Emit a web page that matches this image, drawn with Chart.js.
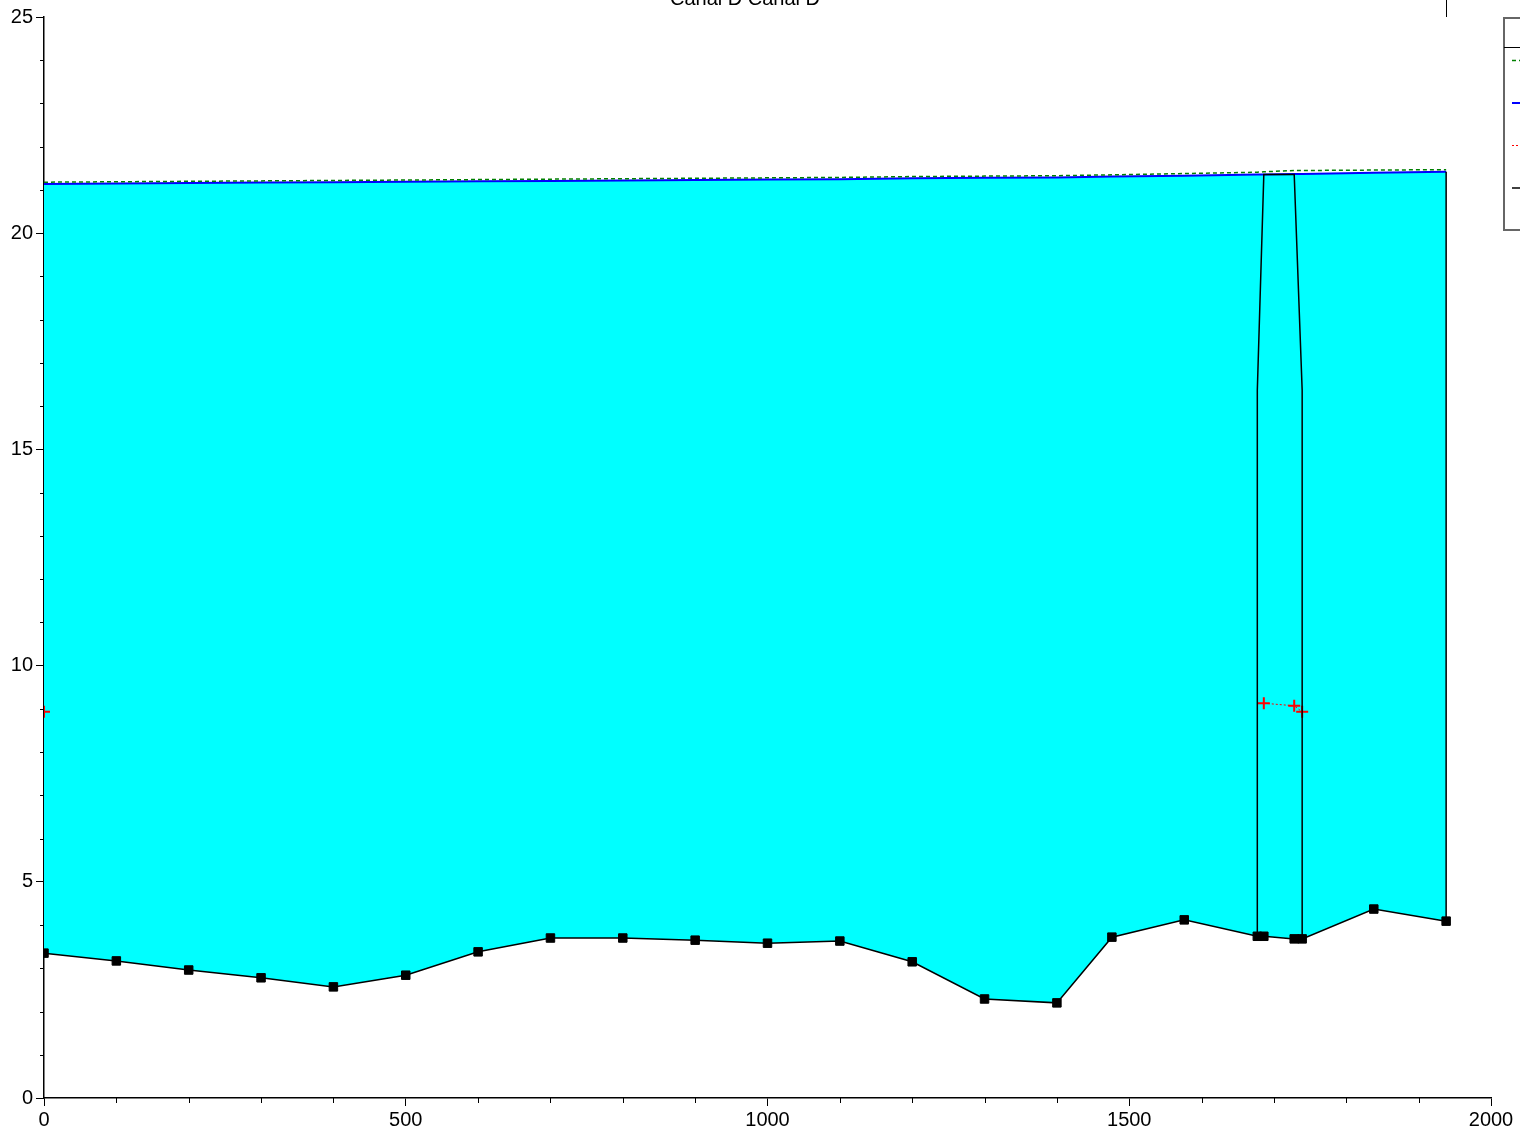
<!DOCTYPE html>
<html>
<head>
<meta charset="utf-8">
<script src="https://cdn.jsdelivr.net/npm/chart.js@4/dist/chart.umd.min.js"></script>
<style>
  body { margin: 0; background: #fff; }
  #wrap { width: 1520px; height: 1133px; }
</style>
</head>
<body>
<div id="wrap"><canvas id="profileChart" width="1520" height="1133"></canvas></div>
<script>
// Stations (ft) of the cross sections along Canal D
const stations = [0, 100, 200, 300, 400, 500, 600, 700, 800, 900, 1000, 1100, 1200, 1300, 1400, 1476, 1576, 1677, 1686, 1728, 1739, 1838, 1938];

// Channel invert
const groundElev = [3.35, 3.17, 2.96, 2.78, 2.57, 2.84, 3.38, 3.70, 3.70, 3.65, 3.58, 3.63, 3.15, 2.29, 2.20, 3.72, 4.12, 3.74, 3.74, 3.68, 3.68, 4.37, 4.09];

// Water surface PF 1
const wsElev = [21.14, 21.15, 21.16, 21.17, 21.18, 21.19, 21.20, 21.21, 21.22, 21.23, 21.24, 21.25, 21.27, 21.28, 21.29, 21.31, 21.33, 21.36, 21.36, 21.37, 21.37, 21.40, 21.42];

// Energy grade PF 1
const egElev = [21.18, 21.19, 21.20, 21.21, 21.22, 21.23, 21.24, 21.25, 21.26, 21.27, 21.28, 21.29, 21.31, 21.32, 21.33, 21.35, 21.38, 21.41, 21.42, 21.45, 21.45, 21.46, 21.47];

// Critical depth PF 1 (only where computed)
const critElev = [8.93, null, null, null, null, null, null, null, null, null, null, null, null, null, null, null, null, null, 9.13, 9.07, 8.93, null, null];

// Bridge deck / culvert outline
const bridgeX = [1677, 1677, 1686, 1728, 1739, 1739];
const bridgeY = [3.74, 16.37, 21.36, 21.36, 16.37, 3.68];

// Right end of the reach
const endX = [1938, 1938];
const endY = [4.09, 21.42];

const pts = (xs, ys) => xs.map((x, i) => ({ x: x, y: ys[i] }));

// minor ticks, title, legend box
const extras = {
    id: 'extras',
    afterDraw(chart) {
        const ctx = chart.ctx;
        const xs = chart.scales.x;
        const ys = chart.scales.y;
        const area = chart.chartArea;
        ctx.save();
        ctx.strokeStyle = '#000';
        ctx.lineWidth = 1;
        ctx.beginPath();
        for (let v = 100; v < 2000; v += 100) {
            if (v % 500 === 0) continue;
            const px = Math.round(xs.getPixelForValue(v)) + 0.5;
            ctx.moveTo(px, area.bottom);
            ctx.lineTo(px, area.bottom + 5);
        }
        for (let v = 1; v < 25; v++) {
            if (v % 5 === 0) continue;
            const py = Math.round(ys.getPixelForValue(v)) + 0.5;
            ctx.moveTo(area.left - 4, py);
            ctx.lineTo(area.left, py);
        }
        // end marker above the plot
        const ex = Math.round(xs.getPixelForValue(1938)) + 0.5;
        ctx.moveTo(ex, 0);
        ctx.lineTo(ex, area.top);
        ctx.stroke();

        // title (mostly above the visible page)
        ctx.fillStyle = '#000';
        ctx.font = '20px "Liberation Sans", Arial, sans-serif';
        ctx.textAlign = 'center';
        ctx.textBaseline = 'alphabetic';
        ctx.fillText('Canal D Canal D', 745, 5);

        // legend
        ctx.strokeStyle = '#666';
        ctx.lineWidth = 2;
        ctx.strokeRect(1504, 18, 120, 212);
        ctx.strokeStyle = '#000';
        ctx.lineWidth = 1;
        ctx.beginPath();
        ctx.moveTo(1504, 47.5);
        ctx.lineTo(1624, 47.5);
        ctx.stroke();
        ctx.textAlign = 'left';
        ctx.textBaseline = 'middle';
        ctx.fillText('Legend', 1540, 32);
        const items = [
            { y: 60.5, color: '#008000', dash: [4, 3], w: 1.5, label: 'EG  PF 1' },
            { y: 103, color: '#0000ff', dash: [], w: 2, label: 'WS  PF 1' },
            { y: 145.5, color: '#ff0000', dash: [2, 2], w: 1, label: 'Crit  PF 1' },
            { y: 188, color: '#000', dash: [], w: 1.5, label: 'Ground' }
        ];
        items.forEach(it => {
            ctx.strokeStyle = it.color;
            ctx.lineWidth = it.w;
            ctx.setLineDash(it.dash);
            ctx.beginPath();
            ctx.moveTo(1512, it.y);
            ctx.lineTo(1545, it.y);
            ctx.stroke();
            ctx.setLineDash([]);
            ctx.fillText(it.label, 1552, it.y);
        });
        ctx.restore();
    }
};

const font = { family: '"Liberation Sans", Arial, sans-serif', size: 20 };

new Chart(document.getElementById('profileChart'), {
    type: 'line',
    data: {
        datasets: [
            {
                label: 'Ground',
                data: pts(stations, groundElev),
                borderColor: '#000',
                borderWidth: 1.5,
                pointStyle: 'rect',
                pointRadius: 6,
                pointBackgroundColor: '#000',
                pointBorderColor: '#000',
                pointBorderWidth: 1,
                fill: false,
                tension: 0
            },
            {
                label: 'Bridge',
                data: pts(bridgeX, bridgeY),
                borderColor: '#000',
                borderWidth: 1.5,
                pointRadius: 0,
                fill: false
            },
            {
                label: 'End',
                data: pts(endX, endY),
                borderColor: '#000',
                borderWidth: 1.5,
                pointRadius: 0,
                fill: false
            },
            {
                label: 'Crit  PF 1',
                data: pts(stations, critElev),
                borderColor: '#ff0000',
                borderWidth: 1,
                borderDash: [2, 2],
                pointStyle: 'cross',
                pointRadius: 6,
                pointBorderColor: '#ff0000',
                pointBorderWidth: 2,
                spanGaps: false,
                fill: false
            },
            {
                label: 'EG  PF 1',
                data: pts(stations, egElev),
                borderColor: '#008000',
                borderWidth: 1.5,
                borderDash: [4, 3],
                pointRadius: 0,
                fill: false
            },
            {
                label: 'WS  PF 1',
                data: pts(stations, wsElev),
                borderColor: '#0000ff',
                borderWidth: 2,
                pointRadius: 0,
                backgroundColor: '#00ffff',
                fill: { target: 0, above: '#00ffff', below: '#00ffff' }
            }
        ]
    },
    options: {
        responsive: false,
        animation: false,
        devicePixelRatio: 1,
        layout: { padding: { top: 17, right: 29, left: 0, bottom: 0 } },
        plugins: {
            legend: { display: false },
            tooltip: { enabled: false },
            title: { display: false }
        },
        scales: {
            x: {
                type: 'linear',
                min: 0,
                max: 2000,
                afterFit: s => { s.height = 35; },
                border: { display: true, color: '#000', width: 1.5 },
                grid: { drawOnChartArea: false, drawTicks: true, tickLength: 8, color: '#000', lineWidth: 1 },
                ticks: { stepSize: 500, color: '#000', font: font, padding: 2, maxRotation: 0, callback: v => String(v) }
            },
            y: {
                type: 'linear',
                min: 0,
                max: 25,
                afterFit: s => { s.width = 44; },
                border: { display: true, color: '#000', width: 1.5 },
                grid: { drawOnChartArea: false, drawTicks: true, tickLength: 8, color: '#000', lineWidth: 1 },
                ticks: { stepSize: 5, color: '#000', font: font, padding: 3, callback: v => String(v) }
            }
        }
    },
    plugins: [extras]
});
</script>
</body>
</html>
